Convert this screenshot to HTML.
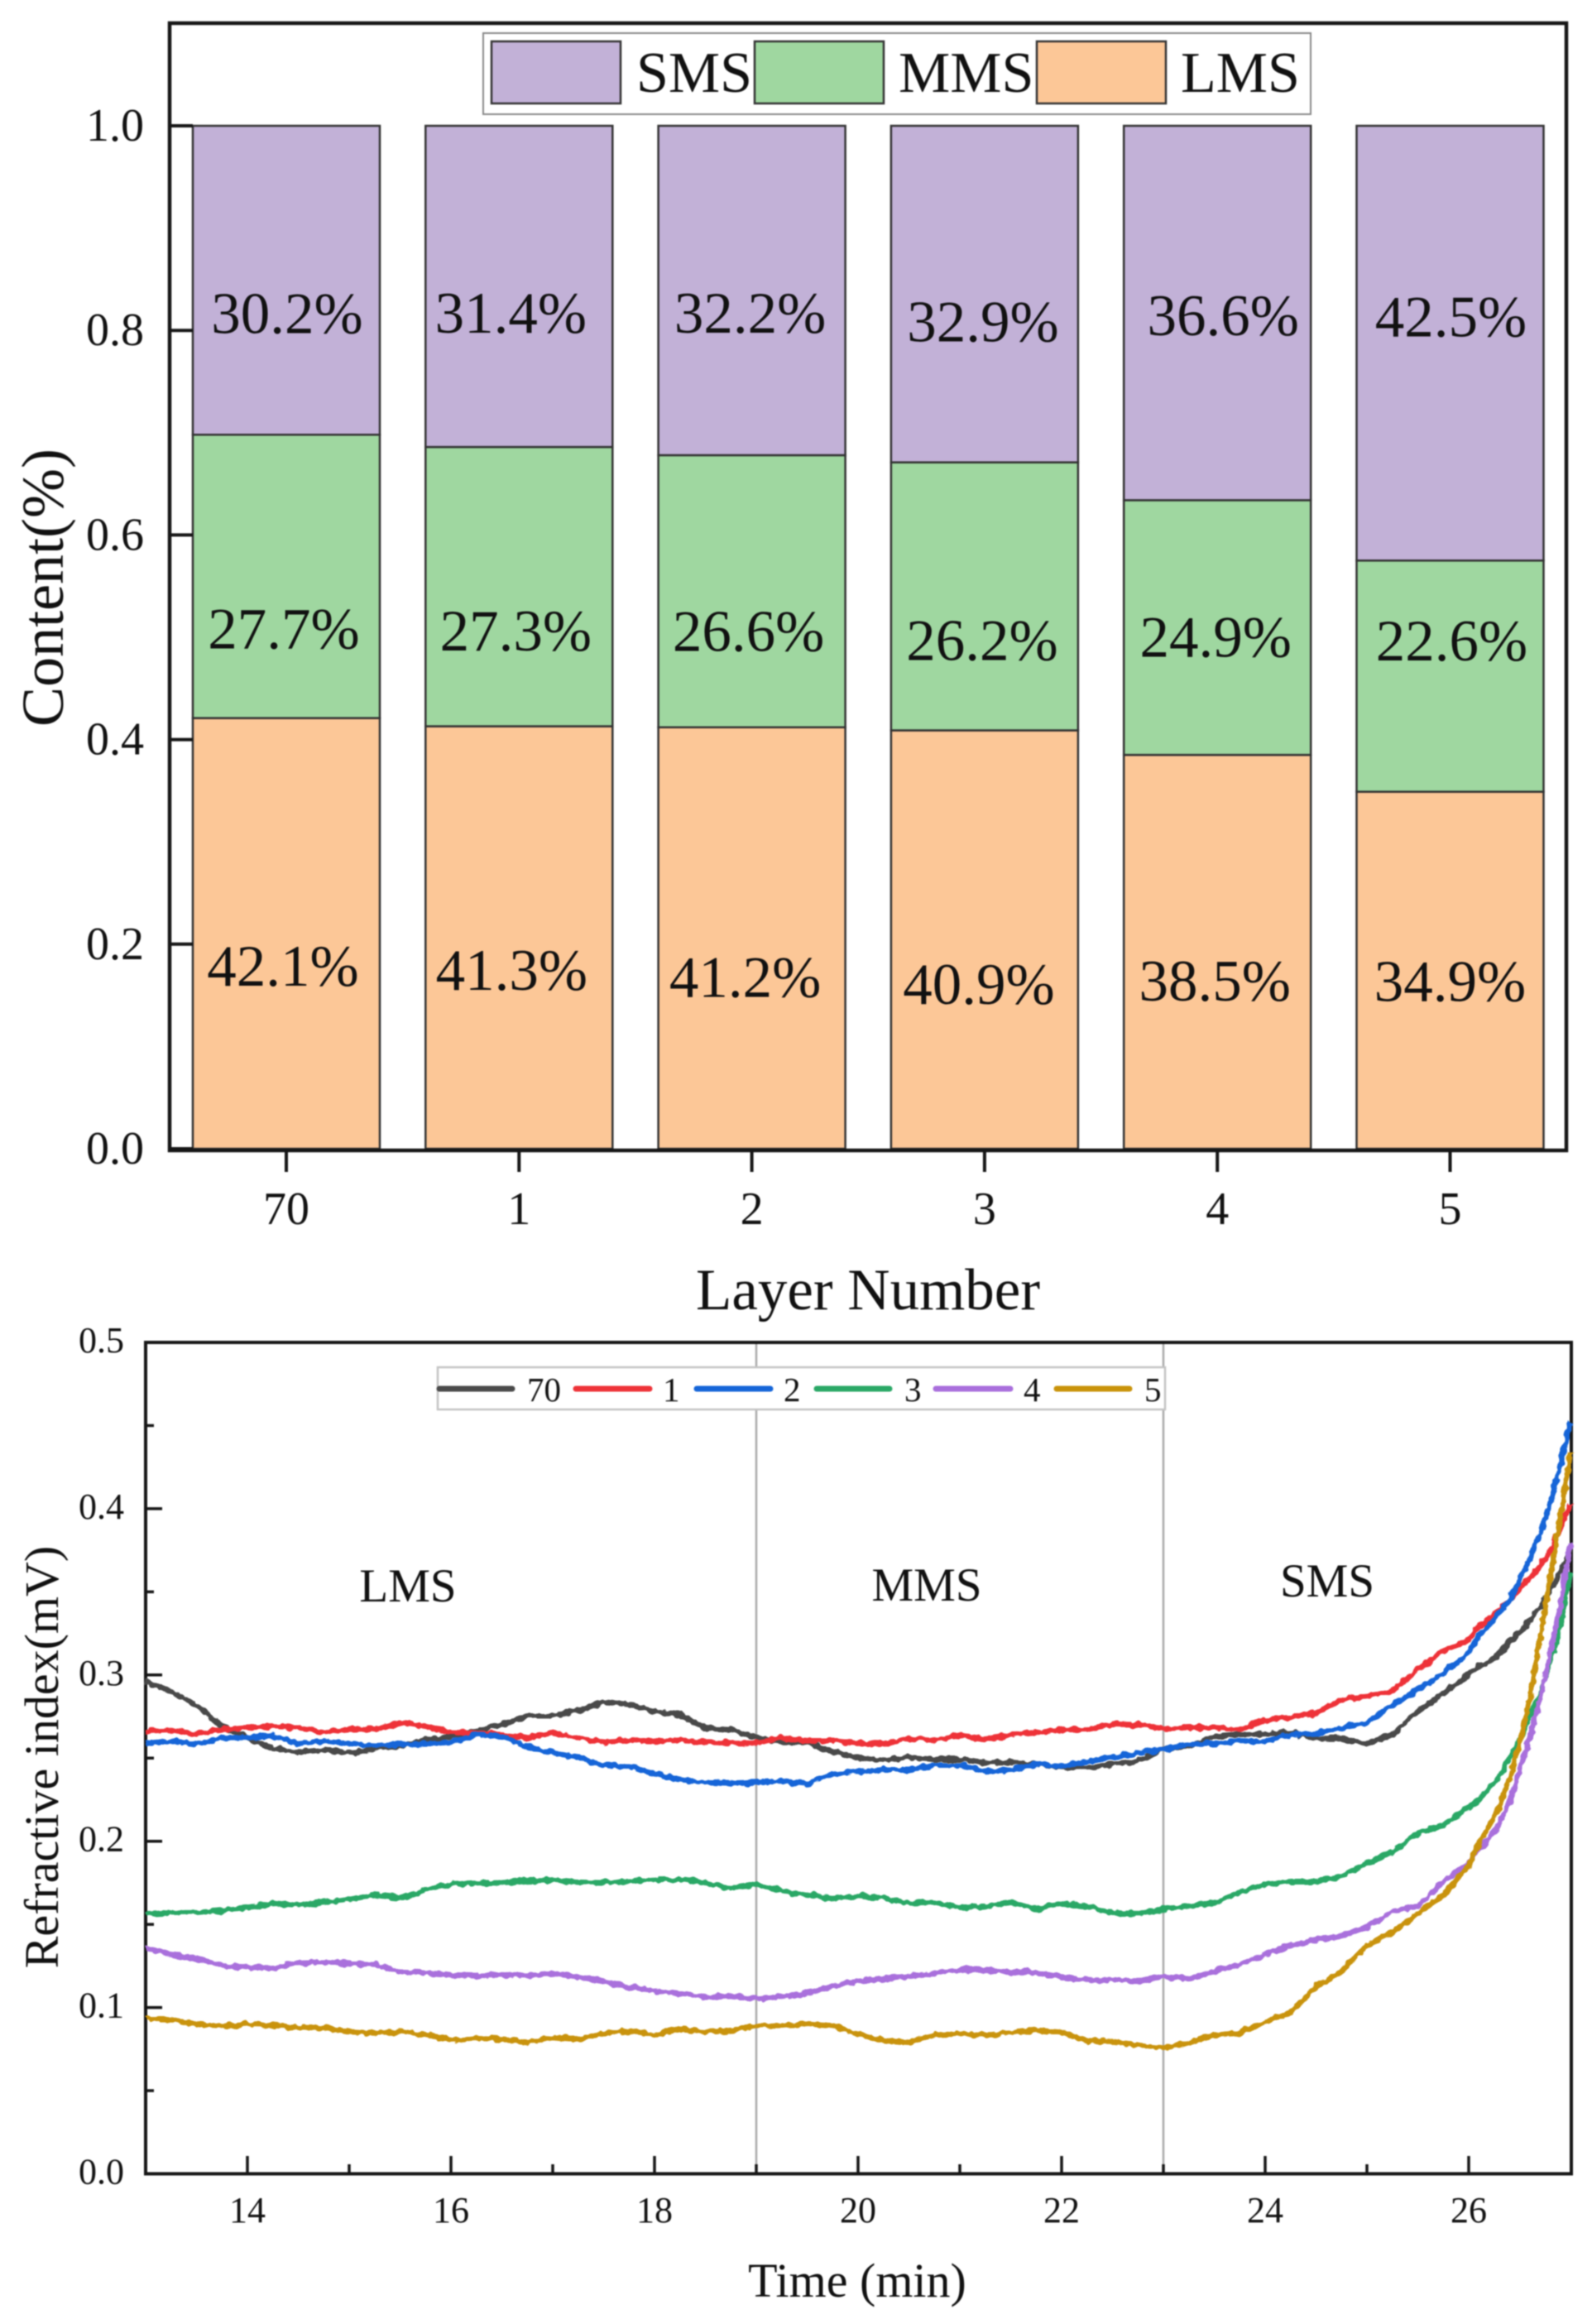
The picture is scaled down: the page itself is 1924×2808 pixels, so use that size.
<!DOCTYPE html>
<html lang="en">
<head>
<meta charset="utf-8">
<title>Layer content and refractive index charts</title>
<style>
html,body{margin:0;padding:0;background:#fff;}
svg{display:block;filter:blur(0.7px);}
text{font-family:"Liberation Serif",serif;fill:#111;}
</style>
</head>
<body>
<svg id="figure" xmlns="http://www.w3.org/2000/svg" width="1924" height="2808" viewBox="0 0 1924 2808">
  <defs>
    <filter id="signal-noise" filterUnits="userSpaceOnUse" x="150" y="1600" width="1770" height="1040">
      <feTurbulence type="fractalNoise" baseFrequency="0.11" numOctaves="2" seed="7" result="grain"></feTurbulence>
      <feDisplacementMap in="SourceGraphic" in2="grain" scale="7" xChannelSelector="R" yChannelSelector="G"></feDisplacementMap>
    </filter>
  </defs>
  <g id="bar-chart">
    <g id="bars"></g>
    <rect x="205" y="28" width="1688" height="1362" fill="none" stroke="#161616" stroke-width="4.5"></rect>
    <g id="bar-axes"></g>
    <g id="bar-labels"></g>
    <g>
      <rect x="584" y="40" width="1000" height="98" fill="#fff" stroke="#8a8a8a" stroke-width="2"></rect>
      <rect x="594" y="50" width="156" height="75" fill="#c2b1d7" stroke="#333" stroke-width="2.5"></rect>
      <text x="769" y="111" font-size="70">SMS</text>
      <rect x="912" y="50" width="156" height="75" fill="#9fd7a0" stroke="#333" stroke-width="2.5"></rect>
      <text x="1086" y="111" font-size="70">MMS</text>
      <rect x="1253" y="50" width="156" height="75" fill="#fcc797" stroke="#333" stroke-width="2.5"></rect>
      <text x="1427" y="111" font-size="70">LMS</text>
    </g>
    <text x="1049" y="1582" font-size="71" text-anchor="middle">Layer Number</text>
    <text transform="translate(76 710) rotate(-90)" font-size="72" text-anchor="middle">Content(%)</text>
  </g>

  <g id="line-chart">
    <line id="divider-a" y1="1622" y2="2626" stroke="#aaa" stroke-width="2.5"></line>
    <line id="divider-b" y1="1622" y2="2626" stroke="#aaa" stroke-width="2.5"></line>
    <rect x="176" y="1622" width="1723" height="1004.5" fill="none" stroke="#161616" stroke-width="4"></rect>
    <g id="line-axes"></g>
    <text x="493" y="1935" font-size="57" text-anchor="middle">LMS</text>
    <text x="1120" y="1934" font-size="57" text-anchor="middle">MMS</text>
    <text x="1604" y="1929" font-size="57" text-anchor="middle">SMS</text>
    <g id="lines" filter="url(#signal-noise)"></g>
    <g>
      <rect x="529" y="1652" width="879" height="51" fill="#fff" stroke="#c4c4c4" stroke-width="2.5"></rect>
      <line x1="531" x2="619" y1="1678" y2="1678" stroke="#4a4a4a" stroke-width="7" stroke-linecap="round"></line>
      <text x="637" y="1693" font-size="41">70</text>
      <line x1="696" x2="785" y1="1678" y2="1678" stroke="#ee3338" stroke-width="7" stroke-linecap="round"></line>
      <text x="801" y="1693" font-size="41">1</text>
      <line x1="842" x2="931" y1="1678" y2="1678" stroke="#1565d8" stroke-width="7" stroke-linecap="round"></line>
      <text x="947" y="1693" font-size="41">2</text>
      <line x1="987" x2="1075" y1="1678" y2="1678" stroke="#2aa866" stroke-width="7" stroke-linecap="round"></line>
      <text x="1093" y="1693" font-size="41">3</text>
      <line x1="1131" x2="1221" y1="1678" y2="1678" stroke="#a96fdc" stroke-width="7" stroke-linecap="round"></line>
      <text x="1237" y="1693" font-size="41">4</text>
      <line x1="1277" x2="1365" y1="1678" y2="1678" stroke="#c9930a" stroke-width="7" stroke-linecap="round"></line>
      <text x="1383" y="1693" font-size="41">5</text>
    </g>
    <text x="1036" y="2775" font-size="58" text-anchor="middle">Time (min)</text>
    <text transform="translate(70 2123) rotate(-90)" font-size="58" text-anchor="middle">Refractive index(mV)</text>
  </g>
</svg>
<script>
// ---------- bar chart data ----------
const layerCategories = ["70", "1", "2", "3", "4", "5"];
const lmsContent = [42.1, 41.3, 41.2, 40.9, 38.5, 34.9];
const mmsContent = [27.7, 27.3, 26.6, 26.2, 24.9, 22.6];
const smsContent = [30.2, 31.4, 32.2, 32.9, 36.6, 42.5];
const contentTicks = [0, 0.2, 0.4, 0.6, 0.8, 1.0];

// ---------- line chart data ----------
const timeMinutes = [
  13,13.25,13.5,13.75,14,14.25,14.5,14.75,15,15.25,15.5,15.75,16,16.25,16.5,16.75,
  17,17.25,17.5,17.75,18,18.25,18.5,18.75,19,19.25,19.5,19.75,20,20.25,20.5,20.75,
  21,21.25,21.5,21.75,22,22.25,22.5,22.75,23,23.25,23.5,23.75,24,24.25,24.5,24.75,
  25,25.25,25.5,25.75,26,
  26.1,26.2,26.3,26.4,26.5,26.6,26.7,26.8,26.9,27
];
const layer70Signal = [
  .296,.290,.282,.269,.262,.256,.2535,.255,.253,.2555,.2575,.261,.263,.2666,.270,.2754,
  .2754,.2787,.2837,.2823,.278,.2762,.268,.267,.2624,.2596,.2596,.2538,.2502,.2488,.2505,.2492,
  .2492,.2472,.2475,.2463,.2447,.2442,.2463,.248,.2555,.2571,.263,.2641,.2646,.2654,.2618,.2618,
  .2588,.2641,.2785,.2886,.3002,
  .3052,.3077,.3127,.3201,.3251,.3326,.3409,.350,.3616,.375
];
const layer1Signal = [
  .2662,.2666,.2646,.2671,.2684,.2691,.2684,.2654,.2671,.2674,.2712,.2691,.2654,.2651,.2641,.2621,
  .2654,.2621,.2596,.2608,.2601,.2608,.2596,.2591,.2591,.2624,.2605,.2605,.2588,.2585,.2618,.2608,
  .2638,.2613,.2641,.2654,.2671,.2671,.2704,.2701,.2677,.2684,.2684,.2671,.2729,.2745,.2770,.2853,
  .287,.2903,.3035,.3143,.321,
  .3293,.3334,.3392,.345,.3517,.3583,.3658,.374,.3882,.403
];
const layer2Signal = [
  .2588,.2604,.2584,.2621,.2621,.2634,.2588,.2604,.2588,.2575,.2584,.2584,.2596,.2641,.2629,.2571,
  .253,.2505,.2455,.2452,.2405,.2372,.2352,.2347,.2352,.2364,.2347,.2405,.2419,.243,.243,.2458,
  .2458,.2419,.243,.2463,.2452,.248,.2505,.253,.2551,.2584,.2588,.2604,.2601,.2641,.2646,.2684,
  .2712,.282,.2911,.301,.3135,
  .3235,.3301,.3376,.345,.357,.370,.385,.403,.426,.452
];
const layer3Signal = [
  .1562,.157,.157,.1584,.160,.1629,.1614,.1634,.165,.1675,.166,.1708,.1742,.1747,.175,.1762,
  .1767,.1753,.175,.1758,.177,.1771,.175,.1717,.1742,.170,.1677,.1655,.167,.1659,.1625,.1632,
  .1599,.161,.1632,.1592,.1625,.161,.1569,.1565,.1592,.161,.1628,.1695,.174,.1756,.1756,.179,
  .1868,.1936,.2048,.2093,.2206,
  .2247,.2322,.2388,.2504,.2604,.2753,.2886,.3077,.3284,.3616
];
const layer4Signal = [
  .1357,.1319,.1294,.125,.1244,.1235,.1269,.1274,.1264,.126,.1214,.121,.1194,.119,.1194,.1194,
  .1202,.1186,.1161,.112,.1103,.1086,.1061,.107,.1053,.1065,.1088,.1127,.116,.1172,.1187,.1205,
  .1228,.1223,.1217,.121,.1183,.1165,.1165,.116,.1187,.1172,.1217,.1261,.1318,.1374,.1407,.143,
  .1486,.1576,.161,.1756,.187,
  .1957,.2015,.2106,.2231,.243,.2621,.2853,.3127,.3417,.3799
];
const layer5Signal = [
  .093,.0929,.0899,.0887,.09,.0895,.0879,.0879,.0854,.0846,.0854,.0837,.0804,.0816,.0809,.0788,
  .082,.0809,.0846,.0859,.0837,.087,.0854,.0862,.0887,.089,.0902,.0891,.0839,.0801,.079,.0834,
  .0841,.0834,.0846,.0864,.085,.0801,.0796,.0774,.0756,.0789,.0834,.0846,.0913,.0969,.1127,.1217,
  .1374,.1452,.1565,.1677,.1855,
  .199,.2089,.2206,.2372,.2587,.2853,.3218,.3583,.3948,.434
];
const timeMajorTicks = [14, 16, 18, 20, 22, 24, 26];
const timeMinorTicks = [15, 17, 19, 21, 23, 25];
const signalMajorTicks = [0, 0.1, 0.2, 0.3, 0.4, 0.5];
const signalMinorTicks = [0.05, 0.15, 0.25, 0.35, 0.45];
const regionBoundaries = [19, 23];

// ---------- hand-placed label nudges of the original figure (layout, not data) ----------
const lmsNudgeX = [-4, -9, -8, -7, -3, 0];
const lmsNudgeY = [63, 63, 71, 78, 59, 37];
const mmsNudgeX = [-3, -4, -4, -3, -2, 2];
const mmsNudgeY = [87, 77, 72, 77, 35, -19];
const smsNudgeX = [1, -10, -2, -2, 7, 1];
const smsNudgeY = [64, 56, 51, 57, 27, -8];

// ---------- axis functions ----------
function barCenterX(i) { return 346 + i * 281.3; }
function contentY(fraction) { return 1388 - fraction * 1236; }
function timeX(t) { return 176 + (t - 13) * 123; }
function signalY(v) { return 2626.5 - v * 2009; }

const NS = "http://www.w3.org/2000/svg";
function make(tag, parentId, props, content) {
  const node = document.createElementNS(NS, tag);
  for (const key in props) node.setAttribute(key, props[key]);
  if (content !== undefined) node.textContent = content;
  document.getElementById(parentId).appendChild(node);
  return node;
}

// ---------- bars ----------
const BAR_WIDTH = 226;
layerCategories.forEach(function (cat, i) {
  const l = lmsContent[i] / 100;
  const m = mmsContent[i] / 100;
  const s = smsContent[i] / 100;
  const cx = barCenterX(i);
  const segments = [
    { key: "lms", from: 0, to: l, fill: "#fcc797", value: lmsContent[i], dx: lmsNudgeX[i], dy: lmsNudgeY[i] },
    { key: "mms", from: l, to: l + m, fill: "#9fd7a0", value: mmsContent[i], dx: mmsNudgeX[i], dy: mmsNudgeY[i] },
    { key: "sms", from: l + m, to: l + m + s, fill: "#c2b1d7", value: smsContent[i], dx: smsNudgeX[i], dy: smsNudgeY[i] }
  ];
  segments.forEach(function (seg) {
    const top = contentY(seg.to);
    const bottom = contentY(seg.from);
    const bar = make("rect", "bars", { x: cx - BAR_WIDTH / 2, y: top, width: BAR_WIDTH, height: bottom - top, fill: seg.fill, stroke: "#333", "stroke-width": 2.5 });
    
    
    const label = make("text", "bar-labels", { x: cx + seg.dx, y: (top + bottom) / 2 + seg.dy, "font-size": 71, "text-anchor": "middle" }, seg.value.toFixed(1) + "%");
    
    
  });
  const tick = make("line", "bar-axes", { x1: cx, x2: cx, y1: 1390, y2: 1416, stroke: "#161616", "stroke-width": 4 });
  
  
  const tickLabel = make("text", "bar-axes", { x: cx, y: 1479, "font-size": 56, "text-anchor": "middle" }, cat);
  
  
});
contentTicks.forEach(function (v) {
  const y = contentY(v);
  const tick = make("line", "bar-axes", { x1: 205, x2: 233, y1: y, y2: y, stroke: "#161616", "stroke-width": 4 });
  
  
  const label = make("text", "bar-axes", { x: 174, y: y + 18, "font-size": 56, "text-anchor": "end" }, v.toFixed(1));
  
  
});

// ---------- line chart axes ----------
document.getElementById("divider-a").setAttribute("x1", timeX(regionBoundaries[0]));
document.getElementById("divider-a").setAttribute("x2", timeX(regionBoundaries[0]));
document.getElementById("divider-b").setAttribute("x1", timeX(regionBoundaries[1]));
document.getElementById("divider-b").setAttribute("x2", timeX(regionBoundaries[1]));
timeMajorTicks.forEach(function (t) {
  const x = timeX(t);
  const tick = make("line", "line-axes", { x1: x, x2: x, y1: 2626, y2: 2605, stroke: "#161616", "stroke-width": 3.5 });
  
  
  const label = make("text", "line-axes", { x: x, y: 2685, "font-size": 44, "text-anchor": "middle" }, String(t));
  
  
});
timeMinorTicks.forEach(function (t) {
  const x = timeX(t);
  const tick = make("line", "line-axes", { x1: x, x2: x, y1: 2626, y2: 2615, stroke: "#161616", "stroke-width": 3.5 });
  
  
});
signalMajorTicks.forEach(function (v) {
  const y = signalY(v);
  const tick = make("line", "line-axes", { x1: 176, x2: 196, y1: y, y2: y, stroke: "#161616", "stroke-width": 3.5 });
  
  
  const label = make("text", "line-axes", { x: 150, y: y + 12, "font-size": 44, "text-anchor": "end" }, v.toFixed(1));
  
  
});
signalMinorTicks.forEach(function (v) {
  const y = signalY(v);
  const tick = make("line", "line-axes", { x1: 176, x2: 186, y1: y, y2: y, stroke: "#161616", "stroke-width": 3.5 });
  
  
});

// ---------- line series ----------
const seriesNames = ["70", "1", "2", "3", "4", "5"];
const seriesColors = ["#4a4a4a", "#ee3338", "#1565d8", "#2aa866", "#a96fdc", "#c9930a"];
const seriesValues = [layer70Signal, layer1Signal, layer2Signal, layer3Signal, layer4Signal, layer5Signal];
seriesValues.forEach(function (values, s) {
  const pts = values.map(function (v, i) { return timeX(timeMinutes[i]).toFixed(1) + "," + signalY(v).toFixed(1); }).join(" ");
  const line = make("polyline", "lines", { points: pts, fill: "none", stroke: seriesColors[s], "stroke-width": 6.5, "stroke-linejoin": "round" });
  
  
});
</script>
</body>
</html>
